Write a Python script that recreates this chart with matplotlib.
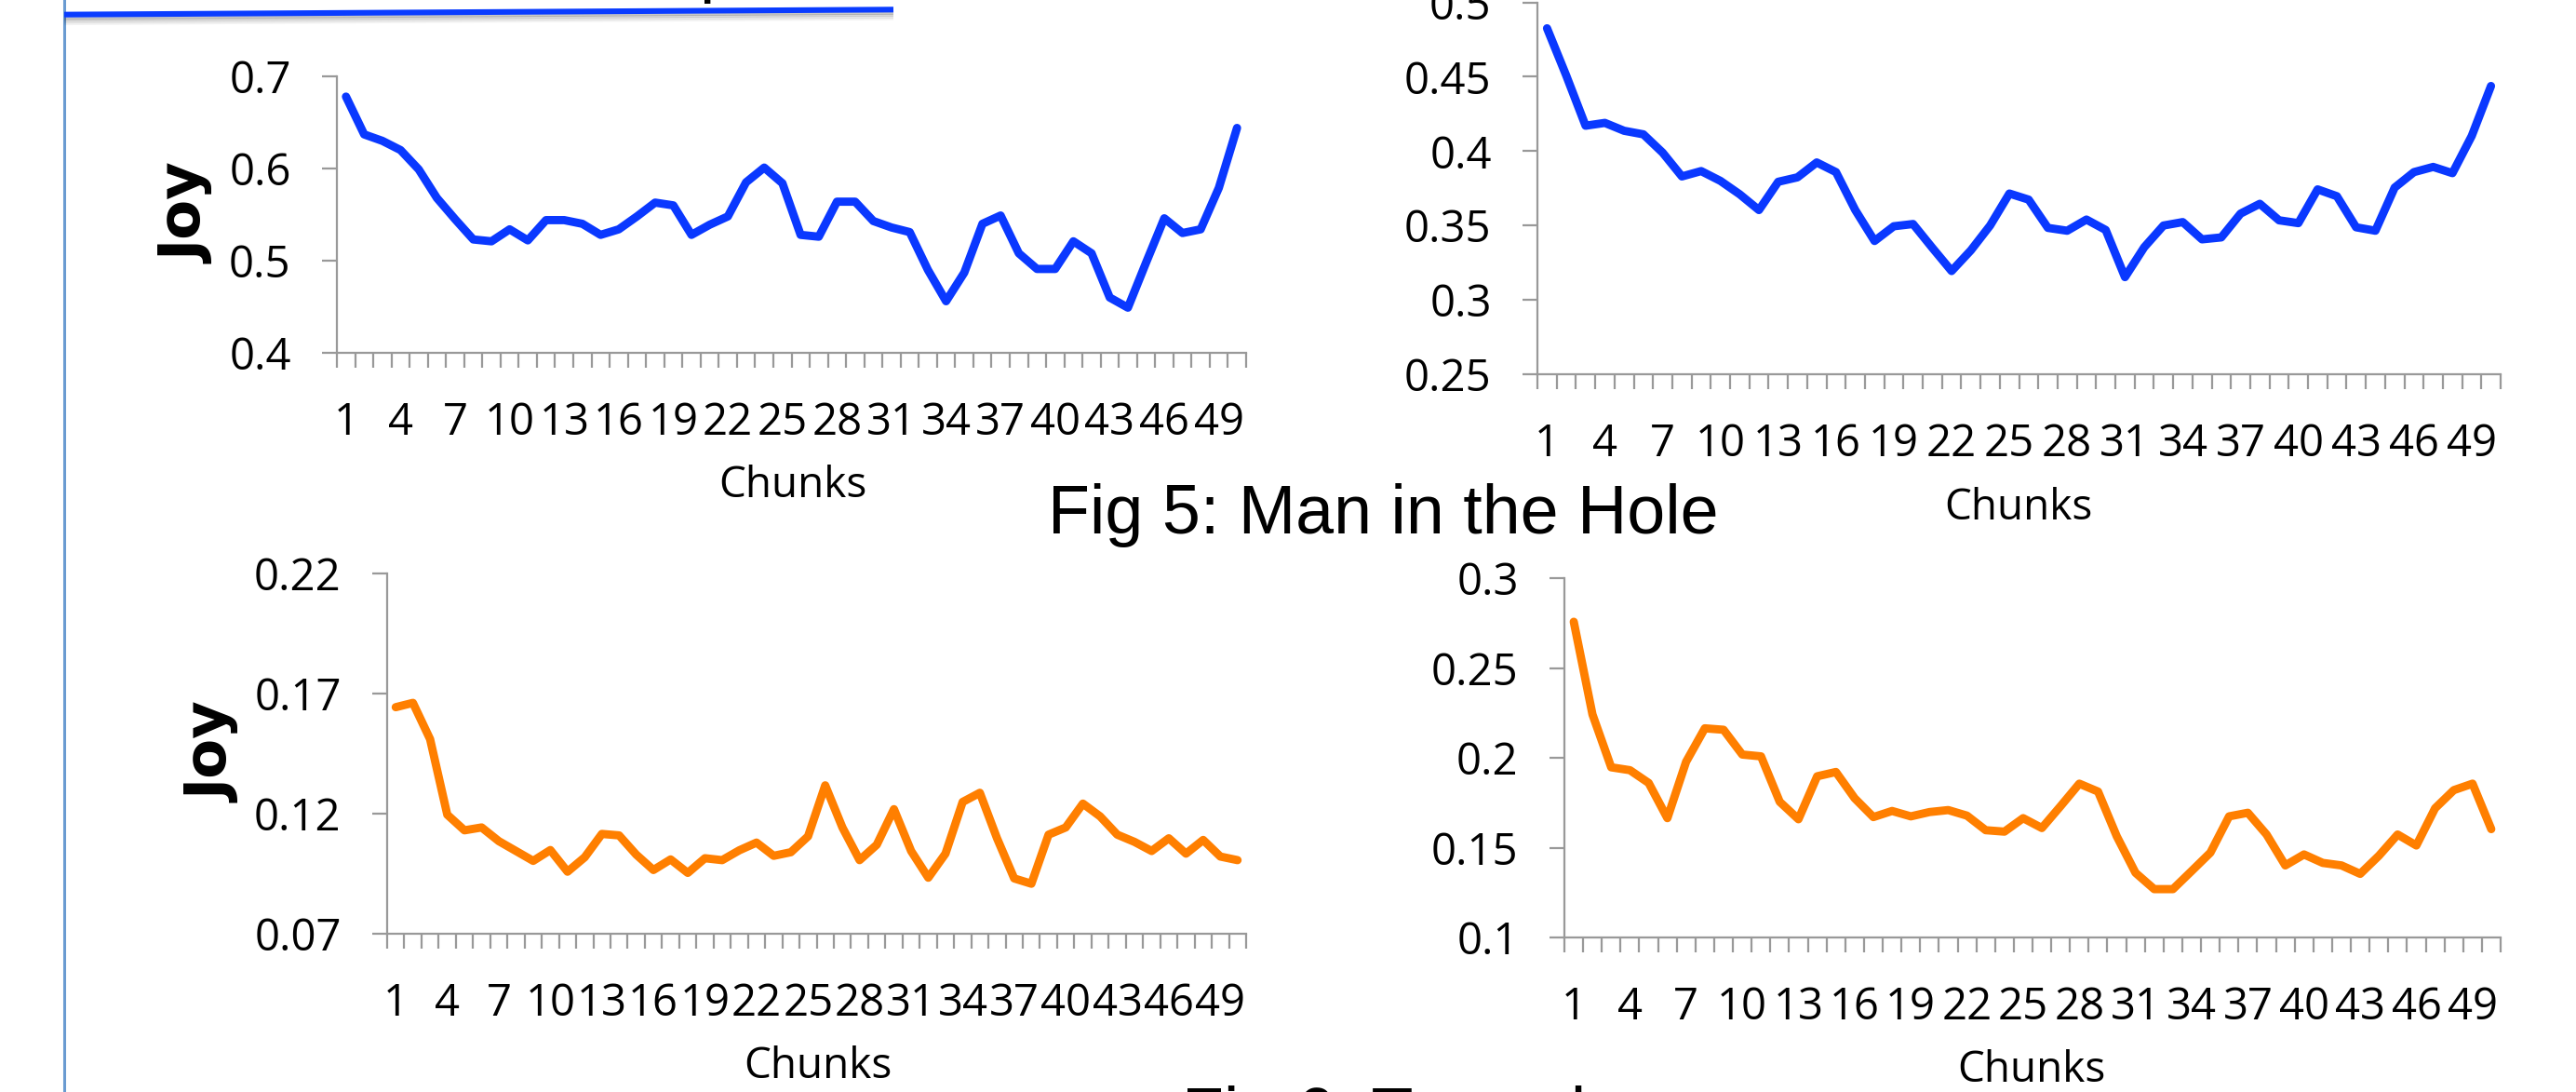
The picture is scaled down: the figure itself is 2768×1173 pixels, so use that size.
import matplotlib
matplotlib.use("Agg")
import matplotlib.pyplot as plt
from matplotlib.lines import Line2D

# ---------------- data ----------------
chunks = list(range(1, 51))
xtick_labels = [str(c) for c in chunks[::3]]

joy_hole_a = [0.678, 0.637, 0.630, 0.620, 0.599, 0.568, 0.545, 0.523, 0.521, 0.534,
              0.522, 0.544, 0.544, 0.540, 0.528, 0.534, 0.548, 0.563, 0.560, 0.528,
              0.539, 0.548, 0.585, 0.601, 0.584, 0.528, 0.526, 0.564, 0.564, 0.543,
              0.536, 0.531, 0.490, 0.456, 0.487, 0.540, 0.549, 0.508, 0.491, 0.491,
              0.521, 0.508, 0.460, 0.449, 0.498, 0.546, 0.530, 0.534, 0.579, 0.644]
joy_hole_b = [0.4826, 0.4507, 0.4171, 0.4190, 0.4137, 0.4113, 0.3990, 0.3830, 0.3866, 0.3800,
              0.3710, 0.3604, 0.3794, 0.3824, 0.3924, 0.3859, 0.3604, 0.3396, 0.3495, 0.3510,
              0.3350, 0.3194, 0.3333, 0.3500, 0.3715, 0.3674, 0.3484, 0.3465, 0.3540, 0.3470,
              0.3153, 0.3354, 0.3500, 0.3523, 0.3407, 0.3420, 0.3580, 0.3646, 0.3535, 0.3516,
              0.3743, 0.3697, 0.3488, 0.3465, 0.3755, 0.3859, 0.3894, 0.3852, 0.4102, 0.4438]
joy_tragedy_a = [0.1642, 0.1660, 0.1509, 0.1195, 0.1130, 0.1142, 0.1085, 0.1044, 0.1003, 0.1048,
                 0.0958, 0.1018, 0.1115, 0.1109, 0.1029, 0.0965, 0.1009, 0.0953, 0.1014, 0.1006,
                 0.1047, 0.1079, 0.1024, 0.1039, 0.1105, 0.1317, 0.1142, 0.1006, 0.1070, 0.1218,
                 0.1044, 0.0933, 0.1033, 0.1248, 0.1286, 0.1097, 0.0930, 0.0908, 0.1112, 0.1142,
                 0.1241, 0.1188, 0.1112, 0.1082, 0.1044, 0.1097, 0.1033, 0.1090, 0.1021, 0.1006]
joy_tragedy_b = [0.2757, 0.2241, 0.1947, 0.1931, 0.1860, 0.1664, 0.1978, 0.2164, 0.2156, 0.2018,
                 0.2008, 0.1755, 0.1658, 0.1897, 0.1921, 0.1775, 0.1670, 0.1704, 0.1674, 0.1698,
                 0.1709, 0.1678, 0.1597, 0.1589, 0.1664, 0.1609, 0.1731, 0.1856, 0.1812, 0.1563,
                 0.1360, 0.1269, 0.1269, 0.1370, 0.1472, 0.1674, 0.1694, 0.1573, 0.1401, 0.1462,
                 0.1415, 0.1401, 0.1354, 0.1455, 0.1573, 0.1512, 0.1719, 0.1820, 0.1856, 0.1603]

yticks_hole_a = [0.4, 0.5, 0.6, 0.7]
yticks_hole_b = [0.25, 0.3, 0.35, 0.4, 0.45, 0.5]
yticks_tragedy_a = [0.07, 0.12, 0.17, 0.22]
yticks_tragedy_b = [0.1, 0.15, 0.2, 0.25, 0.3]

fig_titles = ["Fig 5: Man in the Hole", "Fig 6: Tragedy"]
ylabel_text = "Joy"
xlabel_text = "Chunks"

# ---------------- figure ----------------
W, H = 2768, 1173
DPI = 100
fig = plt.figure(figsize=(W / DPI, H / DPI), dpi=DPI)
fig.patch.set_facecolor("white")

BLUE = "#0A38FF"
ORANGE = "#FF7F00"
GRAY = "#999999"
TICKFONT = "Open Sans"


def px_rect(l, t, r, b):
    return [l / W, 1 - b / H, (r - l) / W, (b - t) / H]


def fmt(v):
    s = ("%.2f" % v).rstrip("0").rstrip(".")
    return s


def make_panel(rect, values, yticks, color):
    ax = fig.add_axes(px_rect(*rect))
    ax.plot(chunks, values, color=color, lw=6.4, solid_joinstyle="round",
            solid_capstyle="round", clip_on=False)
    ax.set_xlim(0.5, 50.5)
    ax.set_ylim(yticks[0], yticks[-1])
    for s in ("top", "right"):
        ax.spines[s].set_visible(False)
    for s in ("left", "bottom"):
        ax.spines[s].set_color(GRAY)
        ax.spines[s].set_linewidth(1.6)
    ax.set_xticks(chunks[::3])
    ax.set_xticklabels(xtick_labels, fontfamily=TICKFONT, fontsize=34)
    ax.set_xticks([c - 0.5 for c in chunks] + [chunks[-1] + 0.5], minor=True)
    ax.tick_params(axis="x", which="major", length=0, pad=37)
    ax.tick_params(axis="x", which="minor", length=11.5, width=1.6,
                   color=GRAY, direction="out")
    ax.set_yticks(yticks)
    ax.set_yticklabels([fmt(v) for v in yticks], fontfamily=TICKFONT, fontsize=34)
    ax.tick_params(axis="y", length=11.5, width=1.6, color=GRAY,
                   direction="out", pad=24)
    ax.patch.set_alpha(0)
    return ax


make_panel((362, 82, 1339, 379), joy_hole_a, yticks_hole_a, BLUE)
make_panel((1652, 2.6, 2687, 402), joy_hole_b, yticks_hole_b, BLUE)
make_panel((416, 615.5, 1339, 1003), joy_tragedy_a, yticks_tragedy_a, ORANGE)
make_panel((1681, 621, 2687, 1007), joy_tragedy_b, yticks_tragedy_b, ORANGE)


def ftext(x, y, s, **kw):
    fig.text(x / W, 1 - y / H, s, **kw)


# axis labels
ftext(852, 522, xlabel_text, ha="center", va="center", fontfamily=TICKFONT, fontsize=33)
ftext(2169, 546, xlabel_text, ha="center", va="center", fontfamily=TICKFONT, fontsize=33)
ftext(879, 1146, xlabel_text, ha="center", va="center", fontfamily=TICKFONT, fontsize=33)
ftext(2183, 1150, xlabel_text, ha="center", va="center", fontfamily=TICKFONT, fontsize=33)

ftext(201, 230, ylabel_text, ha="center", va="center", rotation=90,
      fontfamily="DejaVu Sans", fontweight="bold", fontsize=45)
ftext(230, 809, ylabel_text, ha="center", va="center", rotation=90,
      fontfamily="DejaVu Sans", fontweight="bold", fontsize=45)

# figure captions
ftext(1126, 573, fig_titles[0], ha="left", va="baseline",
      fontfamily="Liberation Sans", fontsize=53)
ftext(1270, 1220, fig_titles[1], ha="left", va="baseline",
      fontfamily="Liberation Sans", fontsize=53)
# descender of a heading cut off above the slide
ftext(751, -11, "p", ha="left", va="baseline",
      fontfamily="Liberation Sans", fontsize=53)

# slide decorations: vertical rule and underline with soft shadow
fig.add_artist(Line2D([69 / W, 69 / W], [0, 1], transform=fig.transFigure,
                      color="#6A9BD1", lw=2.2))
for k, a in enumerate([0.22, 0.15, 0.09, 0.05]):
    off = 4 + 2 * k
    fig.add_artist(Line2D([69 / W, 960 / W], [1 - (15.7 + off) / H, 1 - (10.3 + off) / H],
                          transform=fig.transFigure, color="black", alpha=a, lw=2.0,
                          solid_capstyle="butt"))
fig.add_artist(Line2D([69 / W, 960 / W], [1 - 15.7 / H, 1 - 10.3 / H],
                      transform=fig.transFigure, color="#0A3CFF", lw=4.4,
                      solid_capstyle="butt"))

fig.savefig("out.png", dpi=DPI, facecolor="white")
